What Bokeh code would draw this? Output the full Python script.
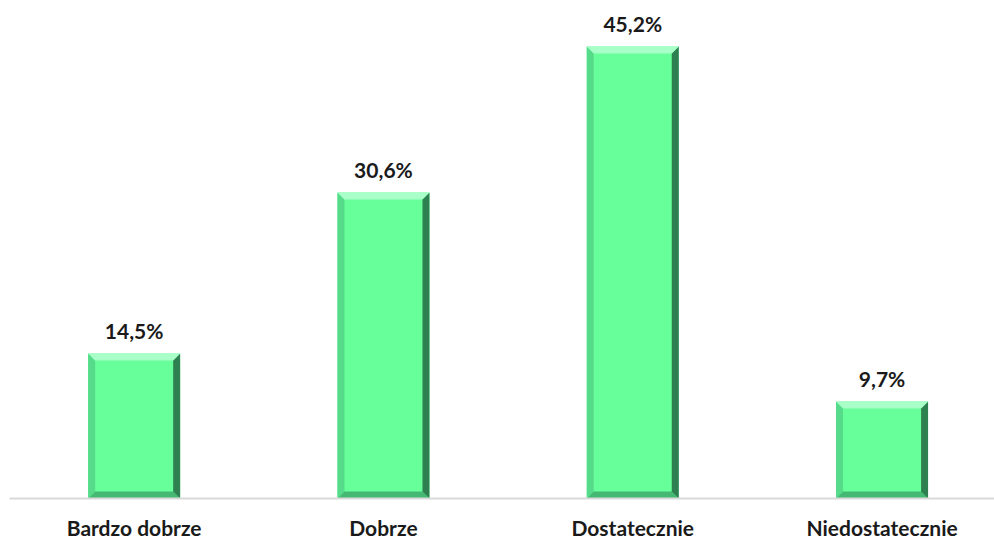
from bokeh.plotting import figure
from bokeh.models import Range1d, FixedTicker
from bokeh.embed import file_html
from bokeh.resources import INLINE
from bokeh.core.properties import value

categories = ["Bardzo dobrze", "Dobrze", "Dostatecznie", "Niedostatecznie"]
values = [14.5, 30.6, 45.2, 9.7]
labels = ["14,5%", "30,6%", "45,2%", "9,7%"]

positions = [i + 0.5 for i in range(len(categories))]
bar_w = 0.369
bx = 0.028   # bevel width in x units (~7 px)
by = 0.7     # bevel height in y units (~7 px)

p = figure(frame_width=985, frame_height=498, output_backend="svg", toolbar_location=None,
           x_range=Range1d(0, 3.951), y_range=Range1d(0, 49.8),
           min_border_left=9, min_border_right=0, min_border_top=0, min_border_bottom=42)

# main bars
p.vbar(x=positions, top=values, width=bar_w, bottom=0,
       fill_color="#66FF99", line_color=None)

tops_x, tops_y, rights_x, rights_y, bots_x, bots_y, lefts_x, lefts_y = ([] for _ in range(8))
for x, v in zip(positions, values):
    l, r = x - bar_w / 2, x + bar_w / 2
    tops_x.append([l, r, r - bx, l + bx]); tops_y.append([v, v, v - by, v - by])
    rights_x.append([r, r, r - bx, r - bx]); rights_y.append([v, 0, by, v - by])
    bots_x.append([l, r, r - bx, l + bx]); bots_y.append([0, 0, by, by])
    lefts_x.append([l, l, l + bx, l + bx]); lefts_y.append([v, 0, by, v - by])

p.patches(xs=lefts_x, ys=lefts_y, fill_color="#55DB89", line_color=None)
p.patches(xs=bots_x, ys=bots_y, fill_color="#45B873", line_color=None)
p.patches(xs=rights_x, ys=rights_y, fill_color="#2F8050", line_color=None)
p.patches(xs=tops_x, ys=tops_y, fill_color="#A8FFC8", line_color=None)

p.text(x=positions, y=values, text=labels, text_align="center", text_baseline="alphabetic",
       y_offset=-23, text_font=value("Lato"), text_font_style="bold",
       text_font_size="21px", text_color="#1a1a1a")

p.xaxis.ticker = FixedTicker(ticks=positions)
p.xaxis.major_label_overrides = {pos: c for pos, c in zip(positions, categories)}
p.xaxis.major_label_text_font = "Lato"
p.xaxis.major_label_text_font_style = "bold"
p.xaxis.major_label_text_font_size = "21px"
p.xaxis.major_label_text_color = "#1a1a1a"
p.xaxis.major_tick_out = 0
p.xaxis.major_tick_in = 0
p.xaxis.major_label_standoff = 16
p.xaxis.major_tick_line_color = None
p.xaxis.minor_tick_line_color = None
p.xaxis.axis_line_color = "#D9D9D9"
p.xaxis.axis_line_width = 2
p.yaxis.visible = False
p.xgrid.grid_line_color = None
p.ygrid.grid_line_color = None
p.outline_line_color = None

open("out.html", "w").write(file_html(p, INLINE))
